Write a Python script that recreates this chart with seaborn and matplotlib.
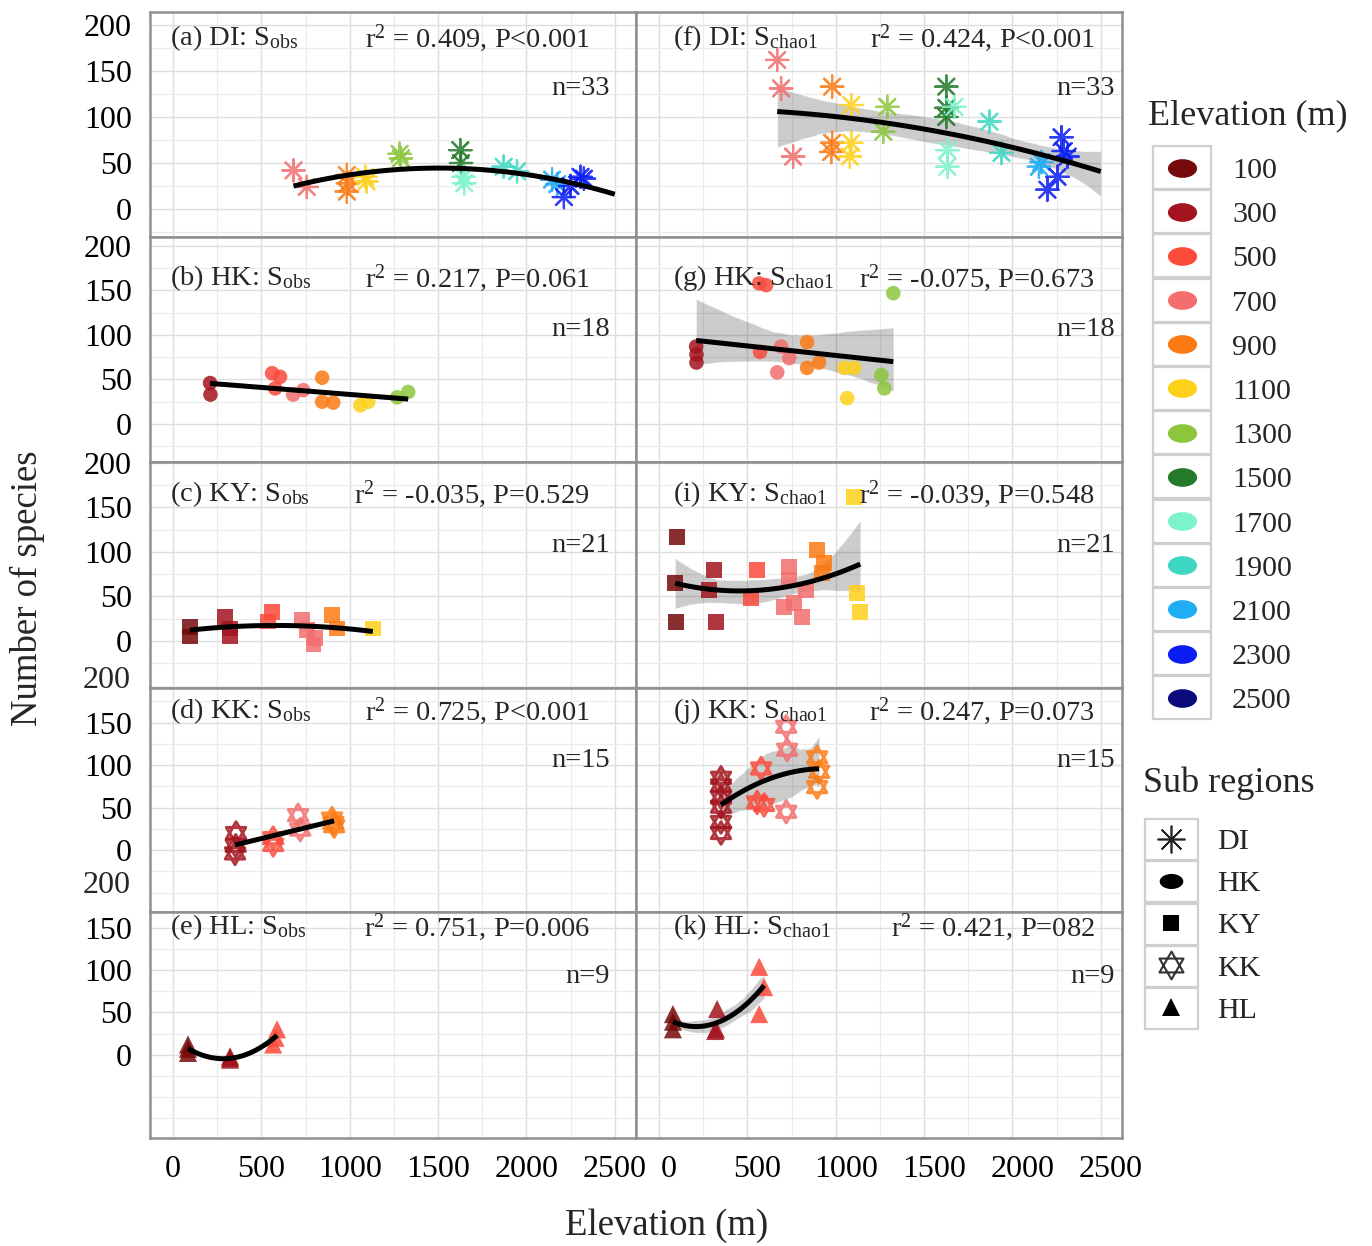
import numpy as np
import pandas as pd
import matplotlib
matplotlib.use("Agg")
import matplotlib.pyplot as plt
import seaborn as sns
from matplotlib.path import Path
from matplotlib.lines import Line2D
from matplotlib.patches import Rectangle
from matplotlib.ticker import MultipleLocator
from matplotlib.transforms import ScaledTranslation

# ---------------- data ----------------
ELEV_CLASSES = ["100", "300", "500", "700", "900", "1100", "1300",
                "1500", "1700", "1900", "2100", "2300", "2500"]
ELEV_COLORS = ["#740a0a", "#a3141e", "#fb4a3a", "#f36e6e", "#fb7a14", "#fdd01a",
               "#8cc63c", "#237a2b", "#7df3cc", "#3ed8c2", "#21adf4", "#0c1df4", "#0b0b7c"]
REGIONS = ["DI", "HK", "KY", "KK", "HL"]

# (a) DI: Sobs
A_ELEV = [682, 757, 984, 984, 990, 1088, 1095, 1282, 1290, 1626, 1630, 1645, 1648,
          1871, 1947, 2145, 2174, 2212, 2249, 2306, 2325]
A_RICH = [42, 24, 37, 19, 28, 35, 30, 60, 55, 64, 50, 35, 28,
          46, 41, 32, 27, 13, 25, 35, 33]
A_CLASS = ["700", "700", "900", "900", "900", "1100", "1100", "1300", "1300", "1500", "1500",
           "1700", "1700", "1900", "1900", "2100", "2100", "2300", "2300", "2300", "2300"]

# (f) DI: Schao1
F_ELEV = [669, 691, 759, 980, 980, 975, 1088, 1088, 1080, 1292, 1269, 1626, 1626, 1626,
          1671, 1632, 1632, 1870, 1938, 2164, 2150, 2278, 2312, 2198, 2255, 2290]
F_RICH = [162, 131, 57, 133, 72, 62, 113, 72, 57, 111, 84, 133, 110, 100,
          111, 64, 46, 95, 61, 51, 46, 78, 57, 21, 35, 63]
F_CLASS = ["700"] * 3 + ["900"] * 3 + ["1100"] * 3 + ["1300"] * 2 + ["1500"] * 3 + \
          ["1700"] * 3 + ["1900"] * 2 + ["2100"] * 2 + ["2300"] * 5

# (b) HK: Sobs
B_ELEV = [210, 212, 561, 606, 578, 680, 737, 844, 844, 907, 1060, 1105, 1269, 1331]
B_RICH = [46, 33, 57, 53, 40, 33, 38, 52, 25, 24, 21, 25, 30, 36]
B_CLASS = ["300", "300", "500", "500", "500", "700", "700", "900", "900", "900",
           "1100", "1100", "1300", "1300"]

# (g) HK: Schao1
G_ELEV = [567, 606, 1326, 210, 212, 212, 572, 691, 737, 669, 838, 906, 838,
          1048, 1105, 1065, 1258, 1275]
G_RICH = [158, 156, 147, 87, 78, 69, 81, 87, 74, 58, 92, 69, 63, 63, 63, 29, 55, 40]
G_CLASS = ["500", "500", "1300", "300", "300", "300", "500", "700", "700", "700",
           "900", "900", "900", "1100", "1100", "1100", "1300", "1300"]

# (c) KY: Sobs
C_ELEV = [96, 96, 295, 323, 323, 559, 540, 729, 757, 804, 795, 899, 927, 1131]
C_RICH = [16, 5, 27, 14, 5, 33, 22, 24, 12, 3, -4, 29, 14, 14]
C_CLASS = ["100", "100", "300", "300", "300", "500", "500", "700", "700", "700", "700",
           "900", "900", "1100"]

# (i) KY: Schao1
I_ELEV = [1105, 102, 91, 96, 312, 283, 323, 555, 521, 737, 737, 833, 708, 765, 810,
          895, 935, 923, 1122, 1139]
I_RICH = [162, 117, 65, 21, 80, 57, 21, 80, 48, 83, 69, 57, 38, 43, 27, 102, 88, 76, 54, 33]
I_CLASS = ["1100", "100", "100", "100", "300", "300", "300", "500", "500",
           "700", "700", "700", "700", "700", "700", "900", "900", "900", "1100", "1100"]

# (d) KK: Sobs
D_ELEV = [357, 351, 355, 567, 567, 708, 720, 907, 900, 912]
D_RICH = [20, -4, 5, 6, 14, 41, 24, 32, 37, 28]
D_CLASS = ["300", "300", "300", "500", "500", "700", "700", "900", "900", "900"]

# (j) KK: Schao1
J_ELEV = [351, 351, 351, 351, 351, 351, 578, 555, 595, 720, 725, 720, 895, 906, 895]
J_RICH = [85, 76, 62, 51, 33, 20, 96, 56, 53, 145, 118, 45, 109, 92, 74]
J_CLASS = ["300"] * 6 + ["500"] * 3 + ["700"] * 3 + ["900"] * 3

# (e) HL: Sobs
E_ELEV = [85, 85, 85, 323, 323, 323, 589, 567, 580]
E_RICH = [12, 2, 7, -4, -6, -2, 30, 12, 20]
E_CLASS = ["100"] * 3 + ["300"] * 3 + ["500"] * 3

# (k) HL: Schao1
K_ELEV = [79, 79, 79, 329, 323, 318, 567, 595, 567]
K_RICH = [48, 30, 39, 54, 30, 28, 104, 80, 48]
K_CLASS = ["100"] * 3 + ["300"] * 3 + ["500"] * 3

Y_TICKS = [0, 50, 100, 150, 200]
X_TICKS = [0, 500, 1000, 1500, 2000, 2500]

# ---------------- style ----------------
sns.set_theme(style="white")
plt.rcParams["font.family"] = ["Liberation Serif", "DejaVu Serif"]
plt.rcParams["mathtext.fontset"] = "custom"
plt.rcParams["mathtext.rm"] = "Liberation Serif"
plt.rcParams["mathtext.it"] = "Liberation Serif:italic"

pal = dict(zip(ELEV_CLASSES, ELEV_COLORS))
hexagram = Path([(0, 1), (-0.866, -0.5), (0.866, -0.5), (0, 1),
                 (0, -1), (0.866, 0.5), (-0.866, 0.5), (0, -1)],
                [Path.MOVETO, Path.LINETO, Path.LINETO, Path.CLOSEPOLY,
                 Path.MOVETO, Path.LINETO, Path.LINETO, Path.CLOSEPOLY])
_uc = Path.unit_circle()
ellipse = Path(_uc.vertices * np.array([1.0, 0.64]), _uc.codes)
MARK = {"DI": (8, 2, 0), "HK": "o", "KY": "s", "KK": hexagram, "HL": "^"}
SIZE = {"DI": 260, "HK": 110, "KY": 130, "KK": 260, "HL": 170}

W, H = 1372, 1246
fig = plt.figure(figsize=(W / 100, H / 100), dpi=100)

col_x = [150, 636]
col_w = 486
row_top = [12, 237, 462, 688, 912]
row_bot = [237, 462, 688, 912, 1138]
ylims = [(-30.4, 214.1), (-42.7, 210.1), (-52.8, 201.1), (-72.9, 190.6), (-98.8, 169.0)]
lab_y = [0.884, 0.818, 0.858, 0.898, 0.933]
n_y = [0.658, 0.591, 0.631, 0.676, 0.716]

panels = [
    # row, col, title, stat, n, elev, rich, cls, region, order, ci
    (0, 0, r"(a) DI: S$_{\mathrm{obs}}$", r"r$^2$ = 0.409, P<0.001", "n=33", A_ELEV, A_RICH, A_CLASS, "DI", 2, None),
    (1, 0, r"(b) HK: S$_{\mathrm{obs}}$", r"r$^2$ = 0.217, P=0.061", "n=18", B_ELEV, B_RICH, B_CLASS, "HK", 1, None),
    (2, 0, r"(c) KY: S$_{\mathrm{obs}}$", r"r$^2$ = -0.035, P=0.529", "n=21", C_ELEV, C_RICH, C_CLASS, "KY", 2, None),
    (3, 0, r"(d) KK: S$_{\mathrm{obs}}$", r"r$^2$ = 0.725, P<0.001", "n=15", D_ELEV, D_RICH, D_CLASS, "KK", 1, None),
    (4, 0, r"(e) HL: S$_{\mathrm{obs}}$", r"r$^2$ = 0.751, P=0.006", "n=9", E_ELEV, E_RICH, E_CLASS, "HL", 2, None),
    (0, 1, r"(f) DI: S$_{\mathrm{chao1}}$", r"r$^2$ = 0.424, P<0.001", "n=33", F_ELEV, F_RICH, F_CLASS, "DI", 2, 85),
    (1, 1, r"(g) HK: S$_{\mathrm{chao1}}$", r"r$^2$ = -0.075, P=0.673", "n=18", G_ELEV, G_RICH, G_CLASS, "HK", 1, 95),
    (2, 1, r"(i) KY: S$_{\mathrm{chao1}}$", r"r$^2$ = -0.039, P=0.548", "n=21", I_ELEV, I_RICH, I_CLASS, "KY", 2, 80),
    (3, 1, r"(j) KK: S$_{\mathrm{chao1}}$", r"r$^2$ = 0.247, P=0.073", "n=15", J_ELEV, J_RICH, J_CLASS, "KK", 2, 95),
    (4, 1, r"(k) HL: S$_{\mathrm{chao1}}$", r"r$^2$ = 0.421, P=082", "n=9", K_ELEV, K_RICH, K_CLASS, "HL", 2, 70),
]

XLIM = (-130, 2620)
for (r, c, title, stat, ntxt, elev, rich, cls, region, order, ci) in panels:
    left = col_x[c] / W
    bottom = 1 - row_bot[r] / H
    height = (row_bot[r] - row_top[r]) / H
    ax = fig.add_axes([left, bottom, col_w / W, height])
    ax.set_facecolor("white")
    df = pd.DataFrame({"elev": elev, "rich": rich, "cls": cls})

    sns.scatterplot(data=df, x="elev", y="rich", hue="cls", hue_order=ELEV_CLASSES,
                    palette=pal, marker=MARK[region], s=SIZE[region],
                    linewidth=(1.6 if region in ("DI", "KK") else 0),
                    alpha=0.85, legend=False, ax=ax, zorder=3)
    if region == "KK":
        coll = ax.collections[-1]
        fc = coll.get_facecolors()
        coll.set_edgecolors(fc)
        coll.set_facecolors("none")
        coll.set_linewidths(2.2)

    if region == "DI":
        ax.set_xlim(min(elev), 2500)
        trunc = False
    else:
        trunc = True
    sns.regplot(data=df, x="elev", y="rich", order=order, ci=ci, scatter=False,
                truncate=trunc, color="black", seed=0, n_boot=500,
                line_kws=dict(lw=3.6, zorder=4, solid_capstyle="butt"), ax=ax)
    for coll in ax.collections:
        if coll.__class__.__name__ in ("PolyCollection", "FillBetweenPolyCollection"):
            coll.set_alpha(0.2)
            coll.set_zorder(2)

    ax.set_xlabel("")
    ax.set_ylabel("")
    ax.set_yticks(Y_TICKS)
    ax.set_xticks(X_TICKS)
    ax.xaxis.set_minor_locator(MultipleLocator(250))
    ax.yaxis.set_minor_locator(MultipleLocator(25))
    ax.set_xlim(*XLIM)
    ax.set_ylim(*ylims[r])
    ax.grid(True, which="major", color="#dedede", lw=1.0, zorder=0)
    ax.grid(True, which="minor", color="#ececec", lw=0.8, zorder=0)
    ax.set_axisbelow(True)
    ax.tick_params(which="both", length=0, labelsize=23, colors="black")
    ax.tick_params(axis="y", pad=13)
    ax.tick_params(axis="x", pad=12)
    if c == 0:
        ax.set_yticklabels([str(v) for v in Y_TICKS])
        for v in Y_TICKS:
            if v > ylims[r][1]:
                ax.text(-19 / col_w, v, str(v), transform=ax.get_yaxis_transform(),
                        ha="right", va="center", fontsize=23, clip_on=False)
    else:
        ax.set_yticklabels([])
    if r == 4:
        ax.set_xticklabels([str(v) for v in X_TICKS])
        if c == 1:
            for lab in ax.get_xticklabels():
                lab.set_transform(lab.get_transform() + ScaledTranslation(0.1, 0, fig.dpi_scale_trans))
    else:
        ax.set_xticklabels([])
    for sp in ax.spines.values():
        sp.set_color("#8f8f8f")
        sp.set_linewidth(1.8)
        sp.set_visible(True)

    tx = 0.041 if c == 0 else 0.076
    sx = 0.905 if c == 0 else 0.944
    nx = 0.946 if c == 0 else 0.986
    ax.text(tx, lab_y[r], title, transform=ax.transAxes, ha="left", va="center", fontsize=20.5, zorder=6)
    ax.text(sx, lab_y[r], stat, transform=ax.transAxes, ha="right", va="center", fontsize=20.5, zorder=6)
    ax.text(nx, n_y[r], ntxt, transform=ax.transAxes, ha="right", va="center", fontsize=20.5, zorder=6)

# axis titles
fig.text(27 / W, 1 - 588 / H, "Number of species", rotation=90, ha="center", va="center", fontsize=26.5)
fig.text(667 / W, 1 - 1226 / H, "Elevation (m)", ha="center", va="center", fontsize=26.5)

# ---------------- legends ----------------
def box(x0, y0, w, h):
    fig.add_artist(Rectangle((x0 / W, 1 - (y0 + h) / H), w / W, h / H, transform=fig.transFigure,
                             facecolor="white", edgecolor="#cfcfcf", lw=1.6, zorder=0))

for i in range(len(ELEV_CLASSES)):
    box(1153, 146 + i * 44.2, 58, 43)
for i in range(len(REGIONS)):
    box(1145, 819 + i * 42.3, 53, 41)

fig.text(1148 / W, 1 - 116 / H, "Elevation (m)", ha="left", va="center", fontsize=26)
fig.text(1143 / W, 1 - 783 / H, "Sub regions", ha="left", va="center", fontsize=26)

elev_handles = [Line2D([], [], ls="", marker=ellipse, markersize=21, color=col, markeredgewidth=0)
                for col in ELEV_COLORS]
leg1 = fig.legend(elev_handles, ELEV_CLASSES, loc="upper left",
                  bbox_to_anchor=(1131 / W, 1 - 130 / H), frameon=False, fontsize=21.6,
                  handlelength=1.6, handletextpad=0.87, labelspacing=0.573, borderpad=0.4)

reg_handles = [
    Line2D([], [], ls="", marker=MARK["DI"], markersize=20, color="#222222", markeredgewidth=1.2),
    Line2D([], [], ls="", marker=ellipse, markersize=17, color="black", markeredgewidth=0),
    Line2D([], [], ls="", marker="s", markersize=12, color="black", markeredgewidth=0),
    Line2D([], [], ls="", marker=hexagram, markersize=20, markerfacecolor="none",
           markeredgecolor="#333333", markeredgewidth=1.5),
    Line2D([], [], ls="", marker="^", markersize=13, color="black", markeredgewidth=0),
]
leg2 = fig.legend(reg_handles, REGIONS, loc="upper left",
                  bbox_to_anchor=(1120 / W, 1 - 801 / H), frameon=False, fontsize=21.6,
                  handlelength=1.6, handletextpad=0.73, labelspacing=0.507, borderpad=0.4)

fig.savefig("out.png", dpi=100)
